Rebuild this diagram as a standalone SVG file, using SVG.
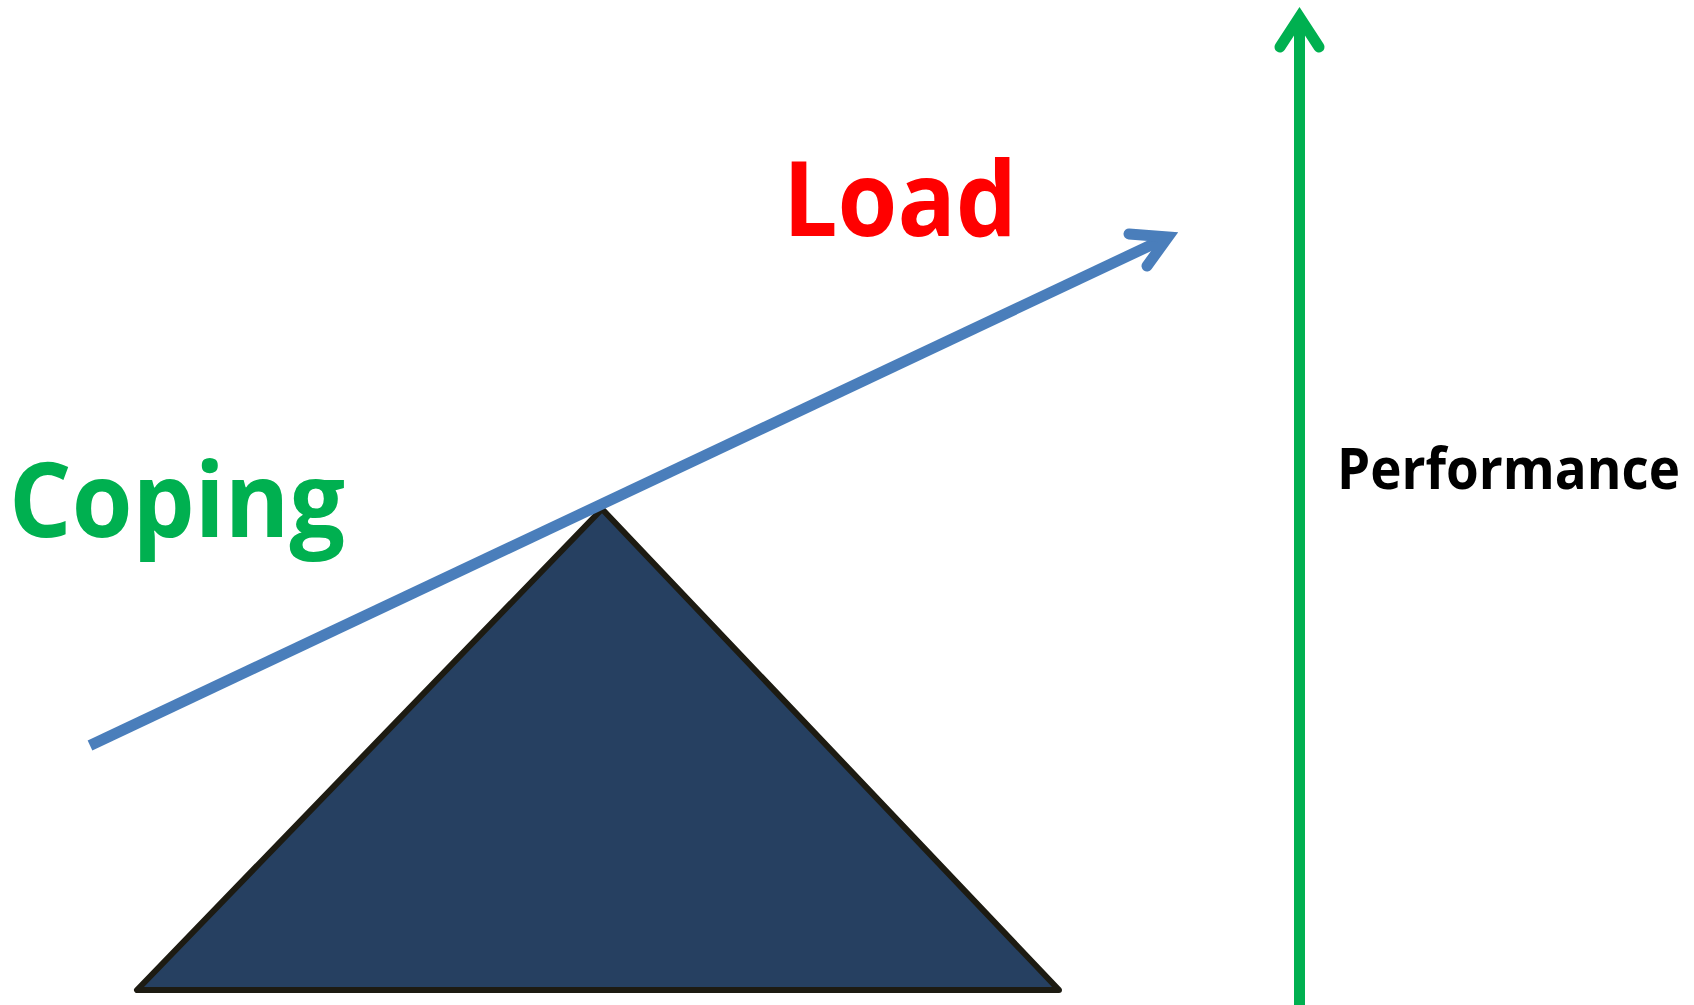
<svg xmlns="http://www.w3.org/2000/svg" width="1694" height="1005" viewBox="0 0 1694 1005">
<style>
.lbl{font-family:"Open Sans","Noto Sans","Liberation Sans",sans-serif;font-weight:bold}
.blue{stroke:#4A7EBB;stroke-width:11;fill:none}
.green{stroke:#00B050;stroke-width:11;fill:none}
.head{stroke-linecap:round;stroke-linejoin:miter;stroke-miterlimit:10}
</style>
<rect width="1694" height="1005" fill="#fff"/>
<g id="fulcrum">
<polygon points="602,509 137,990 1059,990" fill="#264061" stroke="#1d1b12" stroke-width="6" stroke-linejoin="round"/>
</g>
<g id="connectors">
<line class="blue" x1="90" y1="745.5" x2="1166" y2="238"/>
<path class="blue head" d="M1129,234 L1168,237 L1147,266"/>
<line class="green" x1="1299.5" y1="1005" x2="1299.5" y2="20"/>
<path class="green head" d="M1280,47 L1299.5,17 L1319,47"/>
</g>
<g id="load"><text class="lbl" x="783" y="236" font-size="104" fill="#FF0000" textLength="234" lengthAdjust="spacingAndGlyphs">Load</text></g>
<g id="coping"><text class="lbl" x="9" y="537" font-size="104" fill="#00B050" textLength="336" lengthAdjust="spacingAndGlyphs">Coping</text></g>
<g id="performance"><text class="lbl" x="1337" y="489" font-size="57" fill="#000" textLength="343" lengthAdjust="spacingAndGlyphs">Performance</text></g>
</svg>
